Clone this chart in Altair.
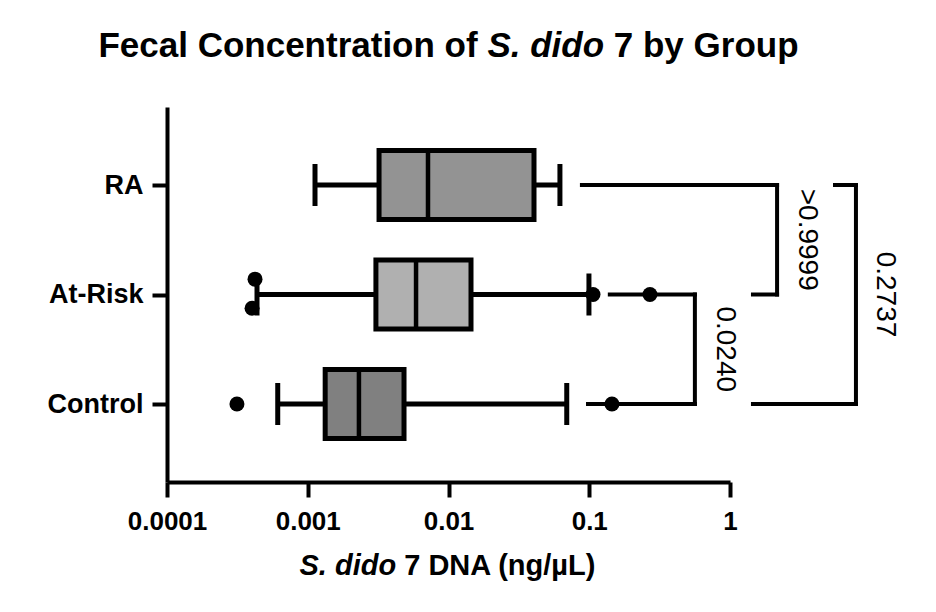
import altair as alt
import pandas as pd

# ---------------- data ----------------
groups = ["Control", "At-Risk", "RA"]
group_pos = [1, 2, 3]
whisker_low = [0.000612, 0.000436, 0.001126]
q1 = [0.00133, 0.00305, 0.00321]
median = [0.00231, 0.00588, 0.00715]
q3 = [0.00483, 0.01445, 0.0405]
whisker_high = [0.0692, 0.0995, 0.0619]
box_colors = ["#808080", "#b0b0b0", "#939393"]

outlier_group = ["Control", "Control", "At-Risk", "At-Risk", "At-Risk", "At-Risk"]
outlier_value = [0.000314, 0.145, 0.000422, 0.000402, 0.1063, 0.270]
outlier_shift = [0.0, 0.0, 0.14, -0.125, 0.0, 0.0]  # vertical spread of overlapping points

# comparisons: (upper group, lower group)
cmp_upper = ["RA", "At-Risk", "RA"]
cmp_lower = ["At-Risk", "Control", "Control"]
p_values = [">0.9999", "0.0240", "0.2737"]
bracket_start_upper = [0.0887, 0.140, 5.57]
bracket_start_lower = [1.456, 0.098, 1.456]
bracket_vertical = [2.16, 0.563, 7.85]
label_x = [3.52, 0.92, 12.6]

x_ticks = [0.0001, 0.001, 0.01, 0.1, 1]

# ---------------- tables ----------------
pos_of = dict(zip(groups, group_pos))
box_df = pd.DataFrame({
    "group": groups, "pos": group_pos, "low": whisker_low, "q1": q1,
    "median": median, "q3": q3, "high": whisker_high, "color": box_colors,
})
out_df = pd.DataFrame({
    "group": outlier_group, "value": outlier_value,
    "ypos": [pos_of[g] + s for g, s in zip(outlier_group, outlier_shift)],
})
seg_rows = []
for up, lo, su, sl, xv in zip(cmp_upper, cmp_lower, bracket_start_upper,
                              bracket_start_lower, bracket_vertical):
    yu, yl = pos_of[up], pos_of[lo]
    seg_rows.append({"x": su, "x2": xv, "y": yu, "y2": yu})
    seg_rows.append({"x": xv, "x2": xv, "y": yu, "y2": yl})
    seg_rows.append({"x": sl, "x2": xv, "y": yl, "y2": yl})
seg_df = pd.DataFrame(seg_rows)
lab_df = pd.DataFrame({
    "label": p_values, "lx": label_x,
    "ly": [(pos_of[u] + pos_of[l]) / 2 for u, l in zip(cmp_upper, cmp_lower)],
})

# ---------------- layout ----------------
W, H = 563, 375
FONT = "Liberation Sans"

xscale = alt.Scale(type="log", domain=[0.0001, 1], nice=False)
yscale = alt.Scale(domain=[1 / 3, 11 / 3], nice=False, zero=False)
xaxis = alt.Axis(values=x_ticks, format="~g", title=None, grid=False,
                 labelFontSize=26, labelPadding=11, tickSize=15,
                 labelOverlap=False, labelFlush=False)
label_expr = " : ".join(f"datum.value == {p} ? '{g}'" for g, p in zip(groups, group_pos)) + " : ''"
yaxis = alt.Axis(values=group_pos, labelExpr=label_expr, title=None, grid=False,
                 labelFontSize=27, labelPadding=9, tickSize=15)


def X(f):
    return alt.X(f, type="quantitative", scale=xscale, axis=xaxis)


def Y(f):
    return alt.Y(f, type="quantitative", scale=yscale, axis=yaxis)


whiskers = alt.Chart(box_df).mark_rule(color="black", strokeWidth=5).encode(
    x=X("low"), x2="high", y=Y("pos"))
caps = alt.Chart(box_df).transform_fold(["low", "high"], as_=["k", "v"]).mark_tick(
    orient="vertical", size=42, thickness=5, color="black", opacity=1).encode(
    x=X("v"), y=Y("pos"))
boxes = alt.Chart(box_df).mark_bar(size=69, stroke="black", strokeWidth=5, opacity=1).encode(
    x=X("q1"), x2="q3", y=Y("pos"), fill=alt.Fill("color:N", scale=None))
medians = alt.Chart(box_df).mark_tick(
    orient="vertical", size=69, thickness=4.5, color="black", opacity=1).encode(
    x=X("median"), y=Y("pos"))
points = alt.Chart(out_df).mark_circle(size=225, color="black", opacity=1).encode(
    x=X("value"), y=Y("ypos"))
brackets = alt.Chart(seg_df).mark_rule(color="black", strokeWidth=4, strokeCap="square").encode(
    x=X("x"), x2="x2", y=Y("y"), y2="y2")
pvals = alt.Chart(lab_df).mark_text(
    angle=90, fontSize=28, font=FONT, color="black", align="center", baseline="middle").encode(
    x=X("lx"), y=Y("ly"), text="label:N")

# ---- titles with mixed italic (Arial / Liberation Sans bold advance widths) ----
ADV = {' ': 278, 'F': 611, 'e': 556, 'c': 556, 'a': 556, 'l': 278, 'C': 722, 'o': 611,
       'n': 611, 't': 333, 'r': 389, 'i': 278, 'f': 333, 'S': 667, '.': 278, 'd': 611,
       '7': 556, 'b': 611, 'y': 556, 'G': 778, 'u': 611, 'p': 611, 'D': 722, 'N': 722,
       'A': 722, '(': 333, ')': 333, 'g': 611, '/': 278, 'µ': 611, 'L': 611}


def tw(s, fs):
    return sum(ADV.get(ch, 556) for ch in s) / 1000 * fs


def rich_text(segments, fs, baseline_y):
    space = tw(" ", fs)
    total = sum(tw(s, fs) for s, _ in segments) + space * (len(segments) - 1)
    x0 = W / 2 - total / 2
    layers = []
    for s, style in segments:
        layers.append(
            alt.Chart(pd.DataFrame({"t": [s]})).mark_text(
                font=FONT, fontSize=fs, fontWeight="bold", fontStyle=style,
                align="left", baseline="alphabetic", color="black").encode(
                text="t:N", x=alt.value(x0), y=alt.value(baseline_y)))
        x0 += tw(s, fs) + space
    return layers


title_layers = rich_text([("Fecal Concentration of", "normal"), ("S. dido", "italic"),
                          ("7 by Group", "normal")], 35, -50)
xtitle_layers = rich_text([("S. dido", "italic"), ("7 DNA (ng/µL)", "normal")], 29, 468)

chart = alt.layer(
    whiskers, caps, boxes, medians, points, brackets, pvals, *title_layers, *xtitle_layers
).properties(
    width=W, height=H,
    autosize=alt.AutoSizeParams(type="none"),
    padding={"left": 159, "top": 99, "right": 198, "bottom": 122},
).configure_view(strokeWidth=0).configure_axis(
    domainColor="black", domainWidth=4, tickColor="black", tickWidth=4,
    labelFont=FONT, labelFontWeight="bold", labelColor="black",
)

chart.save("out.html", embed_options={"renderer": "svg", "actions": False})
